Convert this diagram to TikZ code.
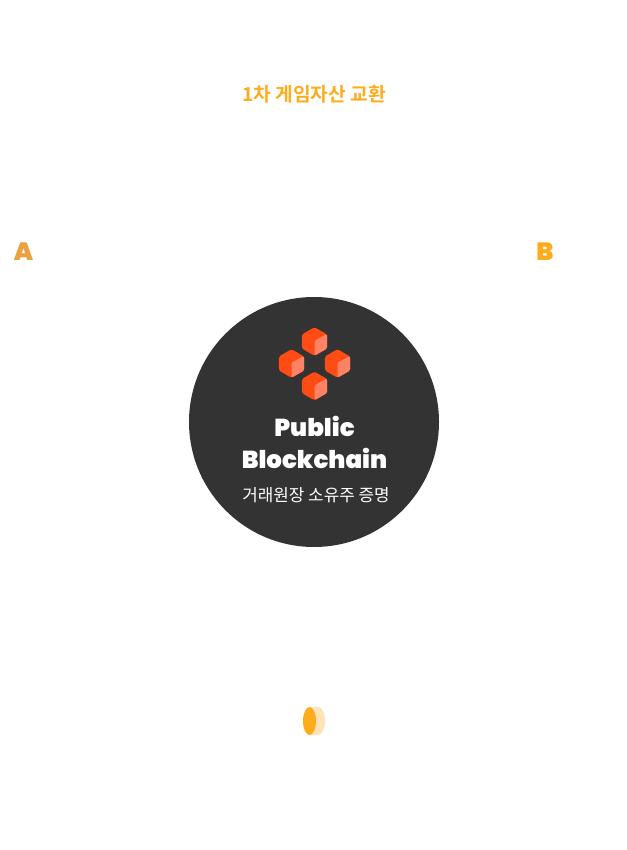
\documentclass[tikz,border=0pt]{standalone}
\usepackage{fontspec}
\setmainfont{Poppins}
\newfontfamily\krfont{Noto Sans CJK KR}
\newfontfamily\krbold{Noto Sans CJK KR Bold}
\newfontfamily\popblack{Poppins Black}
\definecolor{ink}{HTML}{333333}
\definecolor{amber}{HTML}{FFAC1C}
\definecolor{amberA}{HTML}{E9A23F}
\definecolor{paleamber}{HTML}{FFE3B8}
\definecolor{cubemain}{HTML}{FF4C15}
\definecolor{cubelight}{HTML}{FF8264}
\tikzset{
  titletext/.style={inner sep=0pt,text=amber,font=\krbold\fontsize{19.2}{22}\selectfont},
  lettertext/.style={inner sep=0pt,font=\popblack\fontsize{25}{28}\selectfont},
  chaintext/.style={inner sep=0pt,text=white,font=\popblack\fontsize{24.5}{32}\selectfont,align=center},
  subtext/.style={inner sep=0pt,text=white,font=\krfont\fontsize{16.9}{20}\selectfont},
  pics/cube/.style={code={
    \fill[cubemain,rounded corners=2.2pt] (0,-14.3) -- (12.6,-7) -- (12.6,7) -- (0,14.3) -- (-12.6,7) -- (-12.6,-7) -- cycle;
    \fill[cubelight,rounded corners=1.4pt] (0,-0.8) -- (12.6,-7.6) -- (12.6,7) -- (0,14.2) -- cycle;
  }}
}
\begin{document}
\begin{tikzpicture}[x=1pt,y=-1pt]
\useasboundingbox (0,0) rectangle (626,850);
\fill[white] (0,0) rectangle (626,850);
\node[titletext] (title) at (314,94) {1차 게임자산 교환};
\node[lettertext,text=amberA] (a) at (23.5,251.5) {A};
\node[lettertext,text=amber] (b) at (545,251.5) {B};
\node[circle,fill=ink,minimum size=250pt,inner sep=0pt] (chain) at (314,422) {};
\pic at (314.5,341.5) {cube};
\pic at (291.5,363.5) {cube};
\pic at (337.5,363.5) {cube};
\pic at (314.5,386) {cube};
\node[chaintext] (name) at (314.5,442) {Public\\Blockchain};
\node[subtext] (sub) at (316,495) {거래원장 소유주 증명};
\fill[paleamber] (310,707) -- (318,707) arc[start angle=-90,end angle=90,x radius=7,y radius=14] -- (310,735) -- cycle;
\fill[amber] (309.5,721) ellipse[x radius=6.5,y radius=14];
\end{tikzpicture}
\end{document}
